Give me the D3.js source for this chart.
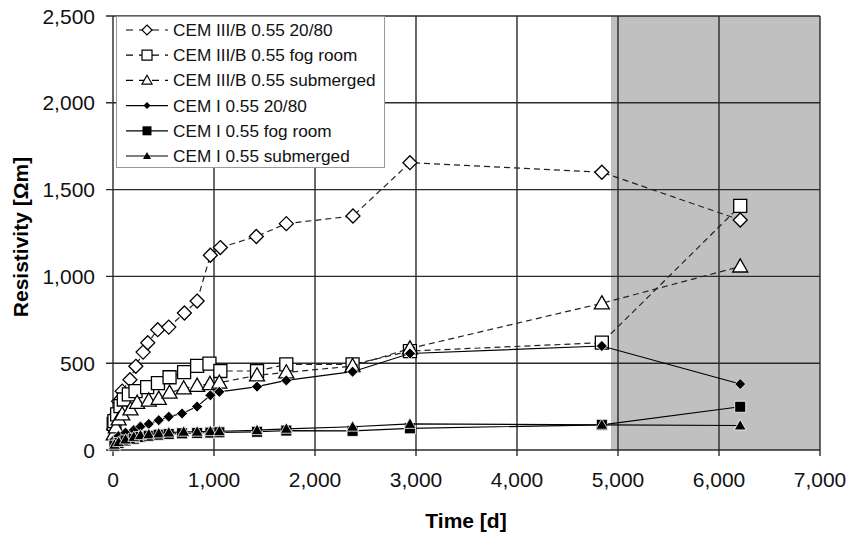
<!DOCTYPE html>
<html>
<head>
<meta charset="utf-8">
<script src="https://cdn.jsdelivr.net/npm/d3@7"></script>
<style>
  html, body { margin: 0; padding: 0; background: #fff; }
  svg { display: block; font-family: "Liberation Sans", Arial, sans-serif; }
</style>
</head>
<body>
<svg id="chart" width="855" height="538"></svg>
<script>
// axis ticks
const xTicks = [0, 1000, 2000, 3000, 4000, 5000, 6000, 7000];
const yTicks = [0, 500, 1000, 1500, 2000, 2500];

// shaded period (days)
const shadeFrom = 4930;

// series values [time (d), resistivity (Ωm)]
const cem3Dry = [[7,120],[28,200],[56,281],[91,339],[168,405],[226,482],[298,564],[344,618],[443,693],[552,708],[707,789],[833,858],[964,1122],[1063,1166],[1419,1230],[1716,1304],[2376,1348],[2940,1655],[4840,1600],[6210,1325]];
const cem3Fog = [[7,150],[14,166],[41,205],[74,253],[107,291],[157,320],[223,339],[338,362],[445,385],[560,419],[704,449],[833,485],[955,498],[1063,455],[1426,455],[1716,493],[2372,493],[2940,570],[4840,618],[6210,1406]];
const cem3Sub = [[7,90],[28,130],[56,176],[91,205],[173,234],[239,272],[354,285],[453,295],[560,330],[700,355],[833,370],[960,380],[1053,388],[1426,430],[1716,447],[2372,483],[2940,585],[4840,845],[6210,1057]];
const cem1Dry = [[14,60],[56,80],[124,100],[206,115],[272,135],[354,150],[453,172],[552,192],[684,210],[833,250],[964,315],[1053,335],[1426,365],[1716,401],[2372,451],[2940,556],[4840,599],[6210,380]];
const cem1Fog = [[14,25],[56,40],[124,55],[206,65],[272,75],[354,82],[453,88],[552,92],[684,96],[833,98],[964,100],[1053,102],[1426,105],[1716,112],[2372,110],[2940,125],[4840,145],[6210,249]];
const cem1Sub = [[14,30],[56,45],[124,60],[206,75],[272,85],[354,90],[453,95],[552,100],[700,105],[833,105],[964,108],[1053,108],[1426,114],[1716,122],[2372,134],[2940,150],[4840,145],[6210,141]];

const seriesNames = [
  "CEM III/B 0.55 20/80",
  "CEM III/B 0.55 fog room",
  "CEM III/B 0.55 submerged",
  "CEM I 0.55 20/80",
  "CEM I 0.55 fog room",
  "CEM I 0.55 submerged"
];
const seriesData = [cem3Dry, cem3Fog, cem3Sub, cem1Dry, cem1Fog, cem1Sub];

// marker shapes
function markerPath(shape, r) {
  if (shape === "diamond") return `M0,${-r}L${r},0L0,${r}L${-r},0Z`;
  if (shape === "square") return `M${-r},${-r}H${r}V${r}H${-r}Z`;
  // triangle
  const h = r * 1.75;
  return `M0,${-h * 0.58}L${r},${h * 0.42}L${-r},${h * 0.42}Z`;
}

const styles = [
  { shape: "diamond", r: 7,   lr: 5,   filled: false, dash: "6,4" },
  { shape: "square",  r: 6.5, lr: 5,   filled: false, dash: "6,4" },
  { shape: "triangle",r: 7.5, lr: 5,   filled: false, dash: "6,4" },
  { shape: "diamond", r: 5.5, lr: 3.5, filled: true,  dash: null },
  { shape: "square",  r: 5.5, lr: 4.5, filled: true,  dash: null },
  { shape: "triangle",r: 6,   lr: 4,   filled: true,  dash: null }
];

const plot = { left: 113, right: 820, top: 16, bottom: 450 };

const svg = d3.select("#chart");
const x = d3.scaleLinear().domain([0, 7000]).range([plot.left, plot.right]);
const y = d3.scaleLinear().domain([0, 2500]).range([plot.bottom, plot.top]);

// shaded region
svg.append("rect")
  .attr("x", x(shadeFrom))
  .attr("y", plot.top)
  .attr("width", x(7000) - x(shadeFrom))
  .attr("height", plot.bottom - plot.top)
  .attr("fill", "#c0c0c0");

// grid
const grid = svg.append("g").attr("stroke", "#2a2a2a").attr("stroke-width", 1.4);
grid.selectAll("line.gx").data(xTicks).enter().append("line")
  .attr("x1", d => x(d)).attr("x2", d => x(d))
  .attr("y1", plot.top).attr("y2", plot.bottom + 6);
grid.selectAll("line.gy").data(yTicks).enter().append("line")
  .attr("x1", plot.left - 7).attr("x2", plot.right)
  .attr("y1", d => y(d)).attr("y2", d => y(d));

// tick labels
svg.append("g").selectAll("text").data(xTicks).enter().append("text")
  .attr("x", d => x(d)).attr("y", 479)
  .attr("text-anchor", "middle").attr("dominant-baseline", "central")
  .attr("font-size", 21).attr("fill", "#111")
  .text(d => d3.format(",")(d));
svg.append("g").selectAll("text").data(yTicks).enter().append("text")
  .attr("x", 95).attr("y", d => y(d))
  .attr("text-anchor", "end").attr("dominant-baseline", "central")
  .attr("font-size", 21).attr("fill", "#111")
  .text(d => d3.format(",")(d));

// axis titles
svg.append("text")
  .attr("x", 466).attr("y", 520)
  .attr("text-anchor", "middle").attr("dominant-baseline", "central")
  .attr("font-size", 21).attr("font-weight", "bold")
  .text("Time [d]");
svg.append("text")
  .attr("transform", "translate(20,237) rotate(-90)")
  .attr("text-anchor", "middle").attr("dominant-baseline", "central")
  .attr("font-size", 21).attr("font-weight", "bold")
  .text("Resistivity [Ωm]");

// series
const line = d3.line().x(d => x(d[0])).y(d => y(d[1]));
seriesData.forEach((data, i) => {
  const st = styles[i];
  const g = svg.append("g");
  g.append("path")
    .attr("d", line(data))
    .attr("fill", "none")
    .attr("stroke", st.filled ? "#000" : "#222")
    .attr("stroke-width", 1.2)
    .attr("stroke-dasharray", st.dash);
  g.selectAll("path.m").data(data).enter().append("path")
    .attr("class", "m")
    .attr("transform", d => `translate(${x(d[0])},${y(d[1])})`)
    .attr("d", markerPath(st.shape, st.r))
    .attr("fill", st.filled ? "#000" : "#fff")
    .attr("stroke", st.filled ? "#fff" : "#000")
    .attr("stroke-width", st.filled ? 0.8 : 1.3);
});

// legend
const legend = svg.append("g");
legend.append("rect")
  .attr("x", 116.5).attr("y", 16.5)
  .attr("width", 268).attr("height", 151)
  .attr("fill", "#fff").attr("stroke", "#999").attr("stroke-width", 1);
seriesNames.forEach((name, i) => {
  const st = styles[i];
  const ly = 30 + i * 25.2;
  legend.append("line")
    .attr("x1", 126).attr("x2", 168).attr("y1", ly).attr("y2", ly)
    .attr("stroke", "#000").attr("stroke-width", 1.2)
    .attr("stroke-dasharray", st.dash ? "7,6" : null);
  legend.append("path")
    .attr("transform", `translate(147,${ly})`)
    .attr("d", markerPath(st.shape, st.lr))
    .attr("fill", st.filled ? "#000" : "#fff")
    .attr("stroke", "#000").attr("stroke-width", st.filled ? 0 : 1.2);
  legend.append("text")
    .attr("x", 173).attr("y", ly)
    .attr("dominant-baseline", "central")
    .attr("font-size", 17.2).attr("fill", "#111")
    .text(name);
});
</script>
</body>
</html>
